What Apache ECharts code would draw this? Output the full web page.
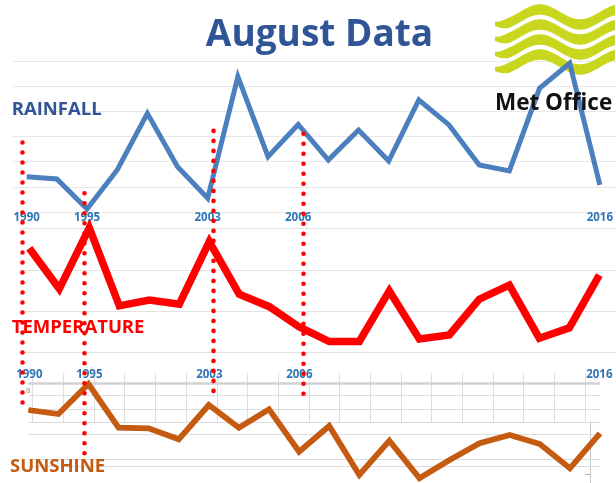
<!DOCTYPE html>
<html>
<head>
<meta charset="utf-8">
<script src="https://cdn.jsdelivr.net/npm/echarts@6/dist/echarts.min.js"></script>
<style>
  html, body { margin: 0; padding: 0; background: #fff; }
  #chart { width: 616px; height: 483px; }
</style>
</head>
<body>
<div id="chart"></div>
<script>
// 横轴：20 个数据点，只标出几个关键年份
const categories = ['1990', '', '1995', '', '', '', '2003', '', '', '2006',
  '', '', '', '', '', '', '', '', '', '2016'];
// 降雨 (mm)
const rainfall = [68.1, 66.2, 42.4, 73.4, 118.4, 76.0, 50.9, 147.5, 84.0, 109.6,
  81.3, 105.2, 80.5, 129.0, 109.2, 77.4, 72.6, 138.3, 158.2, 61.5];
// 气温 (°C)
const temperature = [16.52, 15.54, 17.01, 15.13, 15.27, 15.17, 16.68, 15.41, 15.11, 14.62,
  14.27, 14.27, 15.49, 14.33, 14.43, 15.29, 15.63, 14.35, 14.60, 15.87];
// 日照 (小时)
const sunshine = [193, 189, 219, 175.3, 174.7, 163.7, 198, 175.3, 193.7, 151.3,
  177, 128, 162.3, 124.7, 143, 159.7, 168, 159, 134.7, 169.7];

// 红色点线：沿数据点序号的位置，上下端为图高百分比
const markerYears = ['1990', '1995', '2003', '2006'];
const markerPos = [-0.16, 1.88, 6.13, 9.07];
const markerTop = [29.5, 40.0, 27.1, 27.7];
const markerBottom = [85.2, 95.7, 82.7, 83.4];

// 日照图里残留的网格线 (小时)
const sunGridLines = [220, 208, 194, 181, 169, 144, 137];

const chart = echarts.init(document.getElementById('chart'));

// Met Office 标志的波浪带
function ribbon(base) {
  const top = [];
  const bottom = [];
  for (let x = 495; x <= 616; x += 2) {
    const c = base - 7.5 * Math.cos(2 * Math.PI * (x - 540) / 80);
    const t = 5.2 * Math.min(1, 0.4 + (x - 495) / 22);
    top.push([x, c - t]);
    bottom.unshift([x, c + t]);
  }
  return top.concat(bottom);
}

const labelStyle = {
  interval: 0,
  color: '#2e75b6',
  fontWeight: 'bold',
  fontSize: 11.5,
  fontFamily: 'Open Sans',
};

const option = {
  animation: false,
  backgroundColor: '#fff',
  grid: [
    { left: 26.7, right: 11, top: 61, height: 151 },       // 降雨
    { left: 29.3, right: 16.7, top: 228.3, height: 124.4 }, // 气温
    { left: 28.3, right: 16, top: 383, height: 100 },      // 日照
    { left: 13, right: 0, top: 61, height: 151 },          // 降雨网格线
    { left: 20, right: 0, top: 228.3, height: 124.4 },     // 气温网格线
    { left: 32.7, right: 31, top: 373, height: 49 },       // 日照竖线
    { left: 11.48, right: 11, top: 0, height: 483 },       // 红点线
    { left: 590, right: 19, top: 422, height: 61 },        // 日照右侧残留轴
  ],
  xAxis: [
    { type: 'category', gridIndex: 0, data: categories, boundaryGap: false,
      axisLine: { show: false }, axisTick: { show: false },
      axisLabel: Object.assign({ margin: 0 }, labelStyle) },
    { type: 'category', gridIndex: 1, data: categories, boundaryGap: false,
      axisLine: { show: false }, axisTick: { show: false },
      axisLabel: Object.assign({ margin: 16 }, labelStyle) },
    { type: 'category', gridIndex: 2, data: categories, boundaryGap: false, show: false },
    { type: 'value', gridIndex: 3, min: 0, max: 1, show: false },
    { type: 'value', gridIndex: 4, min: 0, max: 1, show: false },
    { type: 'value', gridIndex: 5, min: 0, max: 18, interval: 1,
      axisLine: { show: false }, axisTick: { show: false }, axisLabel: { show: false },
      splitLine: { show: true, lineStyle: { color: '#dedede', width: 1 } } },
    { type: 'value', gridIndex: 6, min: -0.5, max: 19, show: false },
    { type: 'value', gridIndex: 7, min: 0, max: 1, show: false },
  ],
  yAxis: [
    { type: 'value', gridIndex: 0, min: 40, max: 160, show: false },
    { type: 'value', gridIndex: 1, min: 14, max: 17, show: false },
    { type: 'value', gridIndex: 2, min: 120, max: 220, show: false },
    { type: 'value', gridIndex: 3, min: 40, max: 160, interval: 20,
      axisLine: { show: false }, axisTick: { show: false }, axisLabel: { show: false },
      splitLine: { lineStyle: { color: '#e8e8e8', width: 1.2 } } },
    { type: 'value', gridIndex: 4, min: 14, max: 17, interval: 1,
      axisLine: { show: false }, axisTick: { show: false }, axisLabel: { show: false },
      splitLine: { lineStyle: { color: '#e2e2e2', width: 1.2 } } },
    { type: 'value', gridIndex: 5, min: 0, max: 1, show: false },
    { type: 'value', gridIndex: 6, min: 0, max: 100, inverse: true, show: false },
    { type: 'value', gridIndex: 7, min: 0, max: 61, interval: 26, inverse: true,
      position: 'right',
      axisLine: { show: true, lineStyle: { color: '#c8c8c8', width: 1 } },
      axisTick: { show: true, inside: true, length: 5, lineStyle: { color: '#b0b0b0' } },
      axisLabel: { show: false }, splitLine: { show: false } },
  ],
  series: [
    {
      name: 'RAINFALL', type: 'line', xAxisIndex: 0, yAxisIndex: 0,
      data: rainfall, symbol: 'none', clip: false, z: 3,
      lineStyle: { color: '#4b7fbe', width: 5, join: 'miter' },
    },
    {
      name: 'TEMPERATURE', type: 'line', xAxisIndex: 1, yAxisIndex: 1,
      data: temperature, symbol: 'none', clip: false, z: 3,
      lineStyle: { color: '#ff0000', width: 7.5, join: 'miter' },
    },
    {
      name: 'SUNSHINE', type: 'line', xAxisIndex: 2, yAxisIndex: 2,
      data: sunshine, symbol: 'none', clip: false, z: 3,
      lineStyle: { color: '#c55a11', width: 5.8, join: 'miter' },
    },
    {
      // 日照图的横向网格线
      type: 'line', xAxisIndex: 2, yAxisIndex: 2, data: [], z: 1,
      markLine: {
        silent: true, z: 1, symbol: ['none', 'none'],
        label: { show: false },
        lineStyle: { color: '#dcdcdc', width: 1, type: 'solid' },
        data: sunGridLines.map((v, i) => ({
          yAxis: v,
          lineStyle: i === 0 ? { color: '#d2d2d2', width: 2.5, type: 'solid' } : undefined,
        })),
      },
    },
    {
      // 红色点线
      type: 'line', xAxisIndex: 6, yAxisIndex: 6, data: [], z: 10,
      markLine: {
        silent: true, z: 10, symbol: ['none', 'none'],
        label: { show: false },
        lineStyle: { color: '#ff0000', width: 4.6, type: [0, 10], cap: 'round' },
        data: markerYears.map((y, i) => [
          { name: y, coord: [markerPos[i], markerTop[i]] },
          { coord: [markerPos[i], markerBottom[i]] },
        ]),
      },
    },
  ],
  graphic: [
    ...[17, 32, 47, 62].map(base => ({
      type: 'polygon', z: 1, silent: true,
      shape: { points: ribbon(base) },
      style: { fill: '#c8d61e' },
    })),
    { type: 'text', z: 100, x: 319.5, y: 35.7,
      style: { text: 'August Data', fill: '#2f5597', font: 'bold 37px "Open Sans"',
        align: 'center', verticalAlign: 'middle' } },
    { type: 'text', z: 100, x: 11.7, y: 109.5,
      style: { text: 'RAINFALL', fill: '#2f5597', font: 'bold 18.5px "Open Sans"',
        align: 'left', verticalAlign: 'middle' } },
    { type: 'text', z: 100, x: 11.7, y: 328,
      style: { text: 'TEMPERATURE', fill: '#ff0000', font: 'bold 18.5px "Open Sans"',
        align: 'left', verticalAlign: 'middle' } },
    { type: 'text', z: 100, x: 10, y: 466.3,
      style: { text: 'SUNSHINE', fill: '#c55a11', font: 'bold 18.5px "Open Sans"',
        align: 'left', verticalAlign: 'middle' } },
    { type: 'text', z: 100, x: 495, y: 103.6,
      style: { text: 'Met Office', fill: '#111', font: 'bold 22.5px "Open Sans"',
        align: 'left', verticalAlign: 'middle' } },
    { type: 'text', z: 100, x: 28.3, y: 390.7,
      style: { text: '8', fill: '#8a8a8a', font: '8px "Open Sans"',
        align: 'center', verticalAlign: 'middle' } },
  ],
};

chart.setOption(option);
window.onresize = chart.resize;
</script>
</body>
</html>
